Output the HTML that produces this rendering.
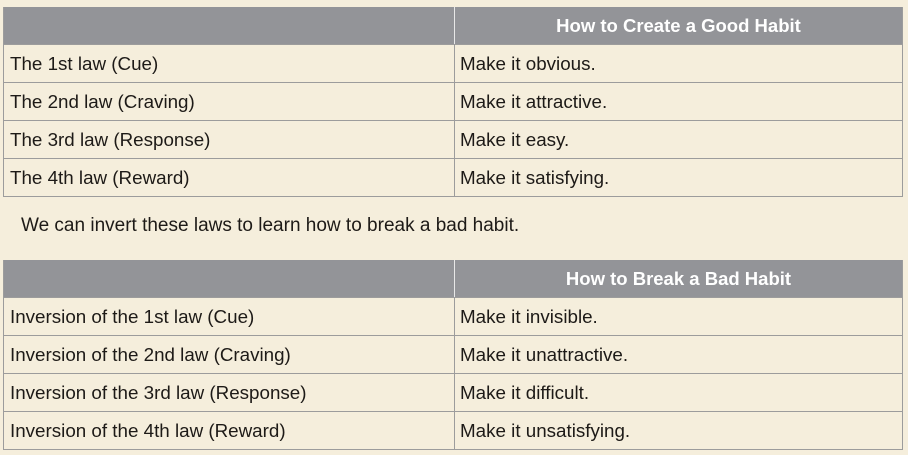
<!DOCTYPE html>
<html><head><style>
body{margin:0;width:908px;height:455px;background:#f5eedc;position:relative;overflow:hidden;font-family:"Liberation Sans",Arial,sans-serif;color:#1d1a17}
.t{position:absolute;left:3px;width:898px;border:1px solid #9c9c9c;border-top:none}
.h{height:37px;background:#939498;position:relative}
.h .c2{position:absolute;left:450px;top:0;bottom:0;right:0;border-left:1px solid #e8e8e8;color:#fff;font-weight:bold;font-size:18.5px;line-height:37px;text-align:center}
.r{height:37px;border-top:1px solid #9c9c9c;position:relative;font-size:18.8px;line-height:37px}
.r .a{position:absolute;left:6px;top:0}
.r .b{position:absolute;left:450px;top:0;bottom:0;border-left:1px solid #9c9c9c;padding-left:5px}
.p{position:absolute;left:21px;top:214px;font-size:19px;line-height:24px}
</style></head><body>
<div class="t" style="top:7px">
<div class="h"><div class="c2">How to Create a Good Habit</div></div>
<div class="r"><span class="a">The 1st law (Cue)</span><span class="b">Make it obvious.</span></div>
<div class="r"><span class="a">The 2nd law (Craving)</span><span class="b">Make it attractive.</span></div>
<div class="r"><span class="a">The 3rd law (Response)</span><span class="b">Make it easy.</span></div>
<div class="r"><span class="a">The 4th law (Reward)</span><span class="b">Make it satisfying.</span></div>
</div>
<div class="p">We can invert these laws to learn how to break a bad habit.</div>
<div class="t" style="top:260px">
<div class="h"><div class="c2">How to Break a Bad Habit</div></div>
<div class="r"><span class="a">Inversion of the 1st law (Cue)</span><span class="b">Make it invisible.</span></div>
<div class="r"><span class="a">Inversion of the 2nd law (Craving)</span><span class="b">Make it unattractive.</span></div>
<div class="r"><span class="a">Inversion of the 3rd law (Response)</span><span class="b">Make it difficult.</span></div>
<div class="r"><span class="a">Inversion of the 4th law (Reward)</span><span class="b">Make it unsatisfying.</span></div>
</div>
</body></html>
